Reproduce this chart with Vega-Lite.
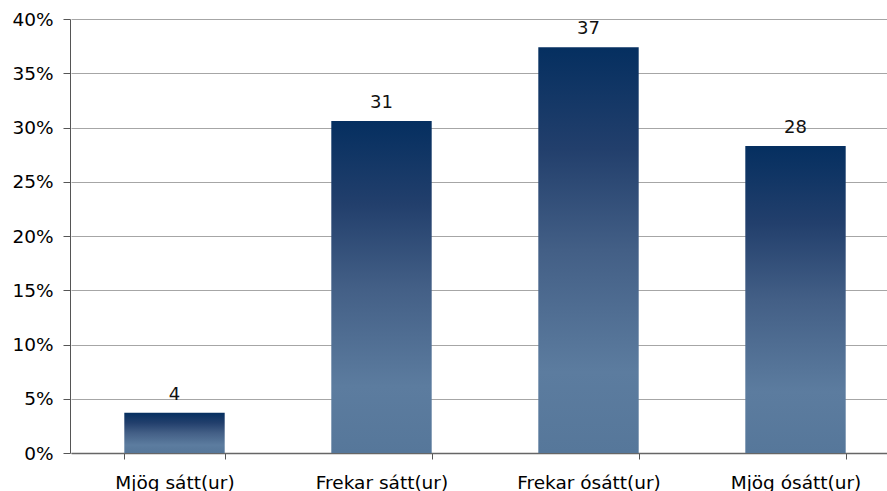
{
  "$schema": "https://vega.github.io/schema/vega-lite/v6.json",
  "autosize": {"type": "none"},
  "width": 817,
  "height": 434,
  "padding": {"left": 70, "top": 19, "right": 0, "bottom": 38},
  "background": "white",
  "config": {"view": {"stroke": null}, "font": "DejaVu Sans"},
  "data": {
    "values": [
      {"cat": "Mjög sátt(ur)", "value": 0.037, "label": "4"},
      {"cat": "Frekar sátt(ur)", "value": 0.306, "label": "31"},
      {"cat": "Frekar ósátt(ur)", "value": 0.374, "label": "37"},
      {"cat": "Mjög ósátt(ur)", "value": 0.283, "label": "28"}
    ]
  },
  "encoding": {
    "x": {
      "field": "cat",
      "type": "nominal",
      "sort": null,
      "scale": {"range": [1, 829], "paddingInner": 0.515, "paddingOuter": 0.2575},
      "axis": {
        "title": null,
        "labelAngle": 0,
        "labelFont": "DejaVu Sans",
        "labelFontSize": 18.5,
        "labelColor": "#000000",
        "labelPadding": 14,
        "tickBand": "extent",
        "tickSize": 6,
        "tickColor": "#555555",
        "domainColor": "#666666",
        "domainWidth": 1.5,
        "grid": false
      }
    },
    "y": {
      "field": "value",
      "type": "quantitative",
      "scale": {"domain": [0, 0.4], "nice": false},
      "axis": {
        "title": null,
        "format": ".0%",
        "values": [0, 0.05, 0.1, 0.15, 0.2, 0.25, 0.3, 0.35, 0.4],
        "labelFont": "DejaVu Sans",
        "labelFontSize": 18.5,
        "labelColor": "#000000",
        "labelPadding": 10,
        "tickSize": 7,
        "tickColor": "#555555",
        "domainColor": "#555555",
        "grid": true,
        "gridColor": "#a6a6a6",
        "gridWidth": 1
      }
    }
  },
  "layer": [
    {
      "mark": {
        "type": "bar",
        "color": {
          "gradient": "linear",
          "x1": 0, "y1": 0, "x2": 0, "y2": 1,
          "stops": [
            {"offset": 0, "color": "#052f60"},
            {"offset": 0.25, "color": "#223f6c"},
            {"offset": 0.5, "color": "#435f86"},
            {"offset": 0.8, "color": "#5c7c9f"},
            {"offset": 1, "color": "#56779a"}
          ]
        }
      }
    },
    {
      "mark": {
        "type": "text",
        "baseline": "alphabetic",
        "dy": -13,
        "font": "DejaVu Sans",
        "fontSize": 18,
        "color": "#111111"
      },
      "encoding": {"text": {"field": "label"}}
    }
  ]
}
